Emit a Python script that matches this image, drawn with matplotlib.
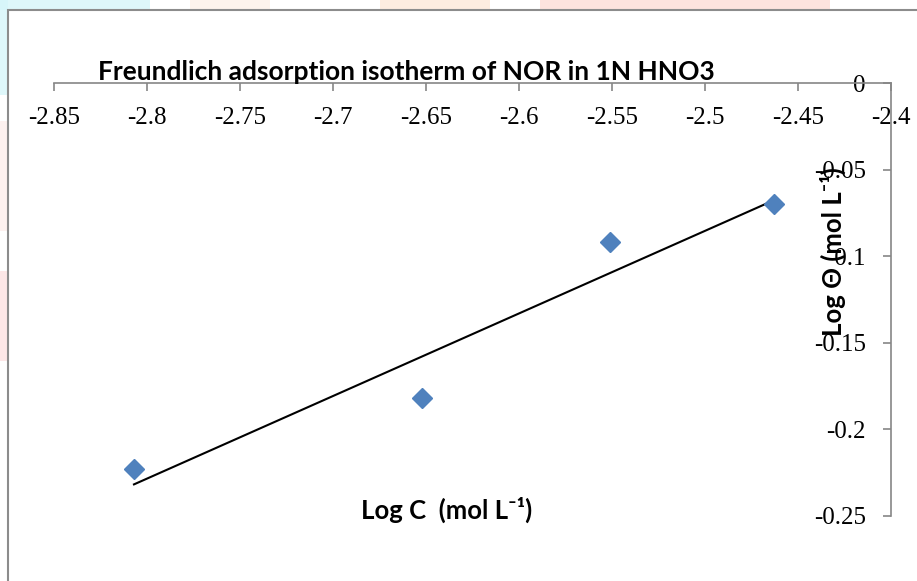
import numpy as np
import matplotlib
matplotlib.use("Agg")
import matplotlib.pyplot as plt
import matplotlib.patches as patches

# data
log_c = [-2.807, -2.652, -2.551, -2.463]
log_theta = [-0.223, -0.182, -0.092, -0.070]
x_ticks = [-2.85, -2.8, -2.75, -2.7, -2.65, -2.6, -2.55, -2.5, -2.45, -2.4]
x_tick_labels = ["-2.85", "-2.8", "-2.75", "-2.7", "-2.65", "-2.6", "-2.55", "-2.5", "-2.45", "-2.4"]
y_ticks = [0, -0.05, -0.1, -0.15, -0.2, -0.25]
y_tick_labels = ["0", "-0.05", "-0.1", "-0.15", "-0.2", "-0.25"]

title = "Freundlich adsorption isotherm of NOR in 1N HNO3"
x_label = "Log C  (mol L\u207b\u00b9)"
y_label = "Log \u0398 (mol L\u207b\u00b9)"

W, H = 917, 581
fig = plt.figure(figsize=(W / 100, H / 100), dpi=100)

# faint watermark colours around the chart frame
wm = [
    (0, 571, 150, 10, "#d6f5f9"), (190, 571, 80, 10, "#fdf1e8"),
    (380, 571, 110, 10, "#fde8d9"), (540, 571, 290, 10, "#fddcd6"),
    (0, 486, 8, 95, "#d6f5f9"), (0, 350, 8, 110, "#fdeeec"),
    (0, 220, 8, 90, "#fde2e2"),
]
for x0, y0, w, h, c in wm:
    fig.patches.append(patches.Rectangle((x0 / W, y0 / H), w / W, h / H,
                                         transform=fig.transFigure, facecolor=c,
                                         edgecolor="none", alpha=0.8, zorder=0))
# chart frame
fig.patches.append(patches.Rectangle((8 / W, -0.1), 1.2, (H - 10) / H + 0.1,
                                     transform=fig.transFigure, facecolor="white",
                                     edgecolor="#8c8c8c", linewidth=1.5, zorder=1))

ax = fig.add_axes([54 / W, 1 - 516 / H, (891 - 54) / W, (516 - 83) / H])
ax.set_facecolor("none")
ax.set_zorder(2)

# linear trendline
slope, icpt = np.polyfit(log_c, log_theta, 1)
xs = np.array([min(log_c), max(log_c)])
ax.plot(xs, slope * xs + icpt, color="black", linewidth=1.5, zorder=2)
ax.plot(log_c, log_theta, linestyle="none", marker="D", markersize=10,
        color="#4F81BD", markeredgecolor="#4F81BD", zorder=3)

ax.set_xlim(-2.85, -2.4)
ax.set_ylim(-0.25, 0)
ax.spines["bottom"].set_position(("data", 0))
ax.spines["left"].set_position(("data", -2.4))
ax.spines["top"].set_visible(False)
ax.spines["right"].set_visible(False)
for s in ("bottom", "left"):
    ax.spines[s].set_color("#868686")
    ax.spines[s].set_linewidth(1.2)

ax.set_xticks(x_ticks)
ax.set_xticklabels(x_tick_labels)
ax.set_yticks(y_ticks)
ax.set_yticklabels(y_tick_labels)
ax.tick_params(axis="both", direction="out", length=6, width=1.2, color="#868686",
               labelsize=18)
ax.tick_params(axis="x", pad=11)
ax.tick_params(axis="y", pad=12)
for lab in ax.get_xticklabels() + ax.get_yticklabels():
    lab.set_fontfamily("Liberation Serif")

fig.text(406 / W, 1 - 72 / H, title, ha="center", va="center", fontsize=19,
         fontweight="bold", family=["Lato", "DejaVu Sans"])
fig.text(447 / W, 1 - 510 / H, x_label, ha="center", va="center", fontsize=18.5,
         fontweight="bold", family=["Lato", "DejaVu Sans"])
fig.text(833 / W, 1 - 252 / H, y_label, ha="center", va="center", fontsize=18.5,
         fontweight="bold", rotation=90, family=["Lato", "DejaVu Sans"])

fig.savefig("out.png", dpi=100)
